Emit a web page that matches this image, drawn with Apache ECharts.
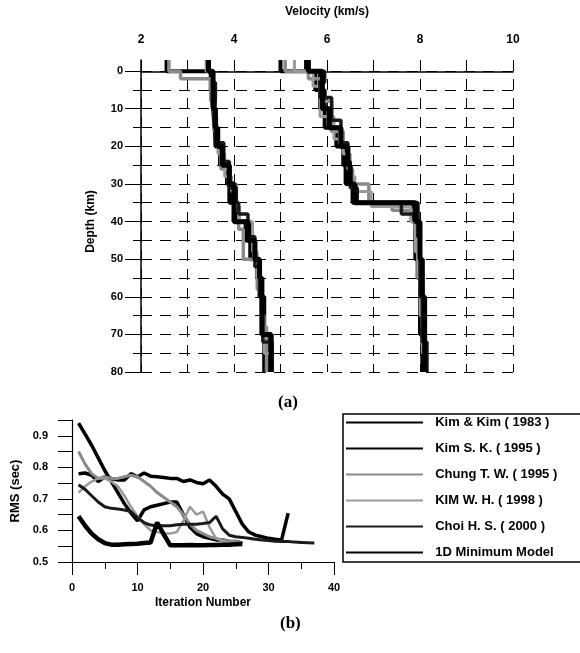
<!DOCTYPE html>
<html>
<head>
<meta charset="utf-8">
<script src="https://cdn.jsdelivr.net/npm/echarts@6/dist/echarts.min.js"></script>
<style>
  html, body { margin: 0; padding: 0; background: #fff; }
  #chart { width: 580px; height: 653px; }
</style>
</head>
<body>
<div id="chart"></div>
<script>
// (a) layered velocity models: layer boundaries (km) and Vp / Vs per layer (km/s)
const depthKimKim = [-3, 0, 5, 10, 15, 20, 25, 30, 35, 40, 45, 50, 55, 60, 70, 80];
const vpKimKim = [5.55, 5.85, 5.95, 6.05, 6.3, 6.4, 6.45, 6.6, 7.95, 7.95, 8.0, 8.0, 8.05, 8.05, 8.1];
const vsKimKim = [3.45, 3.5, 3.55, 3.58, 3.62, 3.75, 3.9, 3.95, 4.05, 4.25, 4.35, 4.55, 4.6, 4.65, 4.75];

const depthKimSK = [-3, 0, 5, 10, 15, 20, 25, 30, 35, 40, 45, 50, 55, 60, 70, 80];
const vpKimSK = [5.0, 5.75, 5.85, 5.95, 6.2, 6.35, 6.4, 6.55, 7.85, 7.9, 7.9, 7.95, 8.0, 8.0, 8.05];
const vsKimSK = [2.55, 3.52, 3.55, 3.6, 3.6, 3.7, 3.85, 3.9, 4.0, 4.35, 4.45, 4.5, 4.55, 4.6, 4.65];

const depthChung = [-3, 0, 2, 8, 16, 20, 26, 30, 35, 37, 42, 50, 58, 68, 80];
const vpChung = [5.1, 5.6, 5.9, 6.1, 6.35, 6.45, 6.55, 6.9, 7.4, 7.9, 7.95, 8.0, 8.05, 8.1];
const vsChung = [2.6, 2.85, 3.5, 3.58, 3.65, 3.72, 3.88, 4.05, 4.0, 4.1, 4.2, 4.5, 4.6, 4.7];

const depthKimWH = [-3, 0, 4, 12, 18, 22, 28, 32, 36, 40, 48, 55, 65, 75, 80];
const vpKimWH = [5.3, 5.7, 5.85, 6.15, 6.35, 6.5, 6.6, 6.95, 7.8, 7.9, 7.95, 8.0, 8.05, 8.1];
const vsKimWH = [3.4, 3.55, 3.58, 3.63, 3.66, 3.8, 3.95, 4.05, 4.12, 4.4, 4.5, 4.58, 4.65, 4.8];

const depthChoi = [-3, 0, 3, 7, 13, 19, 24, 31, 35, 38, 44, 52, 60, 72, 80];
const vpChoi = [5.6, 5.95, 5.85, 6.1, 6.3, 6.45, 6.5, 6.65, 7.6, 7.95, 8.0, 8.0, 8.05, 8.15];
const vsChoi = [3.45, 3.55, 3.6, 3.58, 3.62, 3.78, 3.9, 4.05, 4.1, 4.3, 4.45, 4.55, 4.62, 4.82];

const depthMin1D = [-3, 0, 5, 10, 15, 20, 25, 30, 35, 40, 45, 50, 55, 60, 70, 80];
const vpMin1D = [5.6, 5.9, 5.9, 6.05, 6.3, 6.45, 6.5, 6.6, 7.9, 8.0, 8.0, 8.05, 8.05, 8.1, 8.1];
const vsMin1D = [3.45, 3.55, 3.55, 3.6, 3.65, 3.75, 3.9, 4.0, 4.0, 4.3, 4.45, 4.55, 4.6, 4.6, 4.8];

// (b) RMS per iteration (iteration 1, 2, 3, ...)
const rmsKimKim = [0.78, 0.782, 0.775, 0.755, 0.77, 0.765, 0.76, 0.76, 0.78, 0.77, 0.782, 0.772, 0.77, 0.768, 0.765, 0.765, 0.755, 0.76, 0.752, 0.748, 0.76, 0.74, 0.715, 0.7, 0.66, 0.62, 0.595, 0.585, 0.58, 0.575, 0.572, 0.57, 0.655];
const rmsKimSK = [0.94, 0.905, 0.87, 0.83, 0.79, 0.755, 0.72, 0.685, 0.655, 0.63, 0.665, 0.675, 0.68, 0.685, 0.69, 0.69, 0.65, 0.61, 0.59, 0.58, 0.575, 0.57, 0.57, 0.565, 0.565, 0.56];
const rmsChung = [0.85, 0.81, 0.78, 0.765, 0.77, 0.765, 0.765, 0.77, 0.775, 0.77, 0.755, 0.74, 0.72, 0.705, 0.69, 0.675, 0.65, 0.62, 0.6, 0.59, 0.58, 0.575, 0.57, 0.565, 0.565, 0.56];
const rmsKimWH = [0.72, 0.74, 0.755, 0.765, 0.765, 0.755, 0.74, 0.71, 0.675, 0.645, 0.62, 0.6, 0.595, 0.59, 0.59, 0.595, 0.63, 0.675, 0.65, 0.66, 0.61, 0.575, 0.565, 0.56];
const rmsChoi = [0.745, 0.73, 0.71, 0.69, 0.675, 0.67, 0.668, 0.665, 0.66, 0.64, 0.625, 0.617, 0.615, 0.615, 0.615, 0.618, 0.62, 0.62, 0.62, 0.622, 0.625, 0.645, 0.605, 0.585, 0.58, 0.578, 0.575, 0.572, 0.57, 0.568, 0.566, 0.565, 0.565, 0.563, 0.562, 0.561, 0.56];
const rmsMin1D = [0.645, 0.615, 0.59, 0.572, 0.56, 0.555, 0.555, 0.556, 0.557, 0.558, 0.56, 0.562, 0.625, 0.588, 0.553, 0.553, 0.553, 0.554, 0.553, 0.553, 0.554, 0.554, 0.555, 0.555, 0.556, 0.557];

const modelNames = ["Kim & Kim ( 1983 )", "Kim S. K. ( 1995 )", "Chung T. W. ( 1995 )", "KIM W. H. ( 1998 )", "Choi H. S. ( 2000 )", "1D Minimum Model"];

const models = [
  { depth: depthKimKim, vp: vpKimKim, vs: vsKimKim, rms: rmsKimKim, color: "#000", width: 3.5 },
  { depth: depthKimSK, vp: vpKimSK, vs: vsKimSK, rms: rmsKimSK, color: "#000", width: 3.5 },
  { depth: depthChung, vp: vpChung, vs: vsChung, rms: rmsChung, color: "#8a8a8a", width: 3 },
  { depth: depthKimWH, vp: vpKimWH, vs: vsKimWH, rms: rmsKimWH, color: "#9a9a9a", width: 2.5 },
  { depth: depthChoi, vp: vpChoi, vs: vsChoi, rms: rmsChoi, color: "#1a1a1a", width: 3 },
  { depth: depthMin1D, vp: vpMin1D, vs: vsMin1D, rms: rmsMin1D, color: "#000", width: 4.5 }
];

const font = "'Liberation Sans', Arial, sans-serif";
const dash = [11, 8];

// turns layer boundaries + velocities into a stepped profile
function stepProfile(depth, vel) {
  const pts = [];
  vel.forEach((v, i) => {
    pts.push([v, depth[i]]);
    pts.push([v, depth[i + 1]]);
  });
  return pts;
}

const series = [];
models.forEach((m, i) => {
  ["vp", "vs"].forEach((key) => {
    series.push({
      name: modelNames[i] + " " + key,
      type: "line",
      xAxisIndex: 1,
      yAxisIndex: 1,
      symbol: "none",
      silent: true,
      lineStyle: { color: m.color, width: m.width + 0.5 },
      data: stepProfile(m.depth, m[key])
    });
  });
});
models.forEach((m, i) => {
  series.push({
    name: modelNames[i],
    type: "line",
    xAxisIndex: 2,
    yAxisIndex: 2,
    symbol: "none",
    color: m.color,
    lineStyle: { color: m.color, width: m.width },
    data: m.rms.map((r, k) => [k + 1, r])
  });
});

const chart = echarts.init(document.getElementById("chart"), null, { renderer: "canvas" });

chart.setOption({
  animation: false,
  backgroundColor: "#fff",
  textStyle: { fontFamily: font, color: "#000" },
  grid: [
    { left: 141, top: 71, width: 372, height: 301 },
    { left: 141, top: 60, width: 372, height: 312 },
    { left: 72, top: 420, width: 262, height: 142 }
  ],
  xAxis: [
    { gridIndex: 0, type: "value", min: 2, max: 10, show: false },
    {
      gridIndex: 1,
      type: "value",
      position: "top",
      min: 2,
      max: 10,
      interval: 1,
      name: "Velocity (km/s)",
      nameLocation: "middle",
      nameGap: 42,
      nameTextStyle: { fontWeight: "bold", fontSize: 12, fontFamily: font, color: "#000" },
      axisLine: { lineStyle: { color: "#000", width: 1.5 } },
      axisTick: { length: 6, lineStyle: { color: "#000" } },
      axisLabel: {
        margin: 14,
        fontWeight: "bold",
        fontSize: 12,
        color: "#000",
        formatter: (v) => (v % 2 === 0 ? String(v) : "")
      },
      splitLine: { show: true, lineStyle: { color: "#000", width: 1, type: dash } }
    },
    {
      gridIndex: 2,
      type: "value",
      min: 0,
      max: 40,
      interval: 10,
      name: "Iteration Number",
      nameLocation: "middle",
      nameGap: 35,
      nameTextStyle: { fontWeight: "bold", fontSize: 12, fontFamily: font, color: "#000" },
      axisLine: { lineStyle: { color: "#000", width: 1.2 } },
      axisTick: { length: 13, lineStyle: { color: "#000" } },
      minorTick: { show: true, splitNumber: 2, length: 7, lineStyle: { color: "#000" } },
      axisLabel: { margin: 20, fontWeight: "bold", fontSize: 11, color: "#000" },
      splitLine: { show: false }
    }
  ],
  yAxis: [
    {
      gridIndex: 0,
      type: "value",
      inverse: true,
      min: 0,
      max: 80,
      interval: 10,
      name: "Depth (km)",
      nameLocation: "middle",
      nameGap: 44,
      nameRotate: 90,
      nameTextStyle: { fontWeight: "bold", fontSize: 12, fontFamily: font, color: "#000" },
      axisLine: { show: false },
      axisTick: { length: 16, lineStyle: { color: "#000" } },
      minorTick: { show: true, splitNumber: 2, length: 8, lineStyle: { color: "#000" } },
      axisLabel: { margin: 18, fontWeight: "bold", fontSize: 11, color: "#000" },
      splitLine: { show: true, lineStyle: { color: "#000", width: 1, type: dash } },
      minorSplitLine: { show: true, lineStyle: { color: "#000", width: 1, type: dash } }
    },
    {
      gridIndex: 1,
      type: "value",
      inverse: true,
      min: -3,
      max: 80,
      axisLine: { show: true, lineStyle: { color: "#000", width: 1.5 } },
      axisTick: { show: false },
      axisLabel: { show: false },
      splitLine: { show: false }
    },
    {
      gridIndex: 2,
      type: "value",
      min: 0.5,
      max: 0.95,
      interval: 0.05,
      name: "RMS (sec)",
      nameLocation: "middle",
      nameGap: 50,
      nameRotate: 90,
      nameTextStyle: { fontWeight: "bold", fontSize: 13, fontFamily: font, color: "#000" },
      axisLine: { show: true, lineStyle: { color: "#000", width: 1.2 } },
      axisTick: { length: 14, lineStyle: { color: "#000" } },
      axisLabel: {
        margin: 24,
        fontWeight: "bold",
        fontSize: 11,
        color: "#000",
        formatter: (v) => {
          const t = Math.round(v * 100);
          return t % 10 === 0 ? (t / 100).toFixed(1) : "";
        }
      },
      splitLine: { show: false }
    }
  ],
  legend: {
    data: modelNames,
    orient: "vertical",
    left: 343,
    top: 414,
    itemWidth: 77,
    itemHeight: 12,
    itemGap: 13,
    padding: [2, 40, 3, 2],
    borderColor: "#000",
    borderWidth: 1.5,
    selectedMode: false,
    itemStyle: { opacity: 0 },
    lineStyle: { opacity: 1 },
    formatter: (n) => "  " + n,
    textStyle: { fontFamily: font, fontWeight: "bold", fontSize: 13, color: "#000" }
  },
  graphic: [
    {
      type: "text",
      left: 278,
      top: 394,
      style: { text: "(a)", font: "bold 17px 'Liberation Serif', 'Times New Roman', serif", fill: "#000" }
    },
    {
      type: "text",
      left: 280,
      top: 615,
      style: { text: "(b)", font: "bold 17px 'Liberation Serif', 'Times New Roman', serif", fill: "#000" }
    }
  ],
  series: series
});
</script>
</body>
</html>
